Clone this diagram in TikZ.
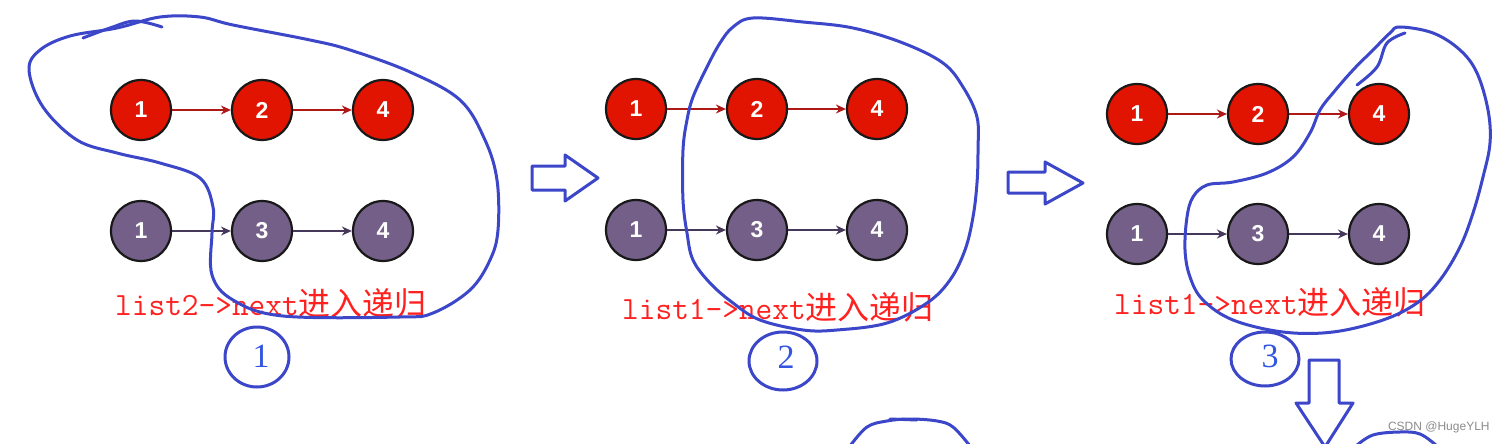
\documentclass[tikz,border=0pt]{standalone}
\usepackage{fontspec}
\setmainfont{Liberation Sans}
\newfontfamily\cjk{Noto Sans CJK SC}
\newfontfamily\seriff{Liberation Serif}
\usetikzlibrary{arrows.meta}
\definecolor{nodered}{HTML}{E01400}
\definecolor{nodepurple}{HTML}{735F87}
\definecolor{arrred}{HTML}{B01818}
\definecolor{arrpurple}{HTML}{46385A}
\definecolor{pen}{HTML}{3C46C8}
\definecolor{numblue}{HTML}{3355E0}
\definecolor{lblred}{HTML}{FF2020}
\tikzset{
  listnode/.style={circle,draw=black!90,line width=1.1pt,minimum size=30pt,inner sep=0pt,
    text=white,font=\fontsize{11.5}{12}\selectfont\bfseries},
  rednode/.style={listnode,fill=nodered},
  purnode/.style={listnode,fill=nodepurple},
  redlink/.style={draw=arrred,line width=0.8pt,-{Stealth[length=5pt,width=4.5pt]}},
  purlink/.style={draw=arrpurple,line width=0.8pt,-{Stealth[length=5pt,width=4.5pt]}},
  penline/.style={draw=pen,line width=1.5pt,line cap=round,line join=round},
  lbl/.style={text=lblred,inner sep=0pt},
  numtxt/.style={text=numblue,font=\seriff\fontsize{17}{18}\selectfont,inner sep=0pt},
}
\newcommand{\lbltext}[1]{{\ttfamily\fontsize{16.2}{18}\selectfont #1}{\cjk\fontsize{16}{18}\selectfont 进入递归}}
\begin{document}
\begin{tikzpicture}[x=0.5pt,y=-0.5pt]
\useasboundingbox (0,0) rectangle (1504,444);
\fill[white] (0,0) rectangle (1504,444);
% ---------- panel 1 ----------
\node[rednode] (a11) at (141,110) {1};
\node[rednode] (a12) at (262,110) {2};
\node[rednode] (a13) at (383,110) {4};
\node[purnode] (b11) at (141,231) {1};
\node[purnode] (b12) at (262,231) {3};
\node[purnode] (b13) at (383,231) {4};
\draw[redlink] (a11) -- (a12);
\draw[redlink] (a12) -- (a13);
\draw[purlink] (b11) -- (b12);
\draw[purlink] (b12) -- (b13);
\node[lbl] (l1) at (271,303) {\lbltext{list2->next}};
% ---------- panel 2 ----------
\node[rednode] (a21) at (636,109) {1};
\node[rednode] (a22) at (757,109) {2};
\node[rednode] (a23) at (877,109) {4};
\node[purnode] (b21) at (636,230) {1};
\node[purnode] (b22) at (757,230) {3};
\node[purnode] (b23) at (877,230) {4};
\draw[redlink] (a21) -- (a22);
\draw[redlink] (a22) -- (a23);
\draw[purlink] (b21) -- (b22);
\draw[purlink] (b22) -- (b23);
\node[lbl] (l2) at (778,307) {\lbltext{list1->next}};
% ---------- panel 3 ----------
\node[rednode] (a31) at (1137,114) {1};
\node[rednode] (a32) at (1258,114) {2};
\node[rednode] (a33) at (1379,114) {4};
\node[purnode] (b31) at (1137,234) {1};
\node[purnode] (b32) at (1258,234) {3};
\node[purnode] (b33) at (1379,234) {4};
\draw[redlink] (a31) -- (a32);
\draw[redlink] (a32) -- (a33);
\draw[purlink] (b31) -- (b32);
\draw[purlink] (b32) -- (b33);
\node[lbl] (l3) at (1270,302) {\lbltext{list1->next}};
% ---------- hand-drawn loops ----------
\draw[penline] plot[smooth cycle,tension=0.6] coordinates {
 (117,28) (160,17) (200,17) (233,25) (310,40) (350,50) (410,72) (460,100) (485,140)
 (497,180) (498,230) (490,260) (470,290) (433,313) (400,317) (283,316) (233,300)
 (212,275) (212,233) (213,207) (200,178) (160,163) (117,153) (77,140) (43,107)
 (29,70) (40,50) (70,36)};
\draw[penline] plot[smooth,tension=0.6] coordinates {(83,38) (110,28) (135,21) (162,27)};
\draw[penline] plot[smooth cycle,tension=0.6] coordinates {
 (733,27) (753,18) (803,22) (853,28) (903,43) (943,63) (963,87) (977,117) (978,150)
 (977,183) (973,217) (965,250) (950,280) (927,303) (887,323) (837,330) (803,330)
 (760,320) (733,303) (710,283) (693,260) (687,233) (683,200) (683,150) (687,120)
 (693,97) (707,67) (720,43)};
\draw[penline] plot[smooth cycle,tension=0.6] coordinates {
 (1400,27) (1433,33) (1460,50) (1477,73) (1488,110) (1490,143) (1483,177) (1473,213)
 (1460,247) (1440,280) (1417,303) (1383,320) (1333,332) (1283,332) (1233,320)
 (1203,300) (1190,277) (1185,250) (1187,217) (1193,197) (1207,185) (1233,182)
 (1267,173) (1293,157) (1310,133) (1320,110) (1333,93) (1353,70) (1373,50) (1390,33)};
\draw[penline] plot[smooth,tension=0.6] coordinates {(1405,33) (1387,43) (1377,67) (1357,85)};
% ---------- circled step numbers ----------
\draw[penline] (257,357) ellipse [x radius=32,y radius=30];
\node[numtxt] (n1) at (261,356) {1};
\draw[penline] (783,361) ellipse [x radius=34,y radius=29];
\node[numtxt] (n2) at (786,357) {2};
\draw[penline] (1265,359) ellipse [x radius=34,y radius=27];
\node[numtxt] (n3) at (1270,356) {3};
% ---------- block arrows ----------
\draw[penline] (532,166) -- (565,166) -- (565,155) -- (598,178) -- (565,201) -- (565,190) -- (532,190) -- cycle;
\draw[penline] (1008,172) -- (1045,172) -- (1045,162) -- (1083,183) -- (1045,204) -- (1045,193) -- (1008,193) -- cycle;
\draw[penline] (1309,360) -- (1339,360) -- (1339,403) -- (1353,403) -- (1325,447) -- (1296,403) -- (1309,403) -- cycle;
% ---------- partial loops at the bottom ----------
\draw[penline] plot[smooth,tension=0.6] coordinates {(850,446) (867,427) (887,421) (910,419) (937,421) (953,427) (970,446)};
\draw[penline] (890,419) -- (917,420);
\draw[penline] plot[smooth,tension=0.6] coordinates {(1356,446) (1373,435) (1400,432) (1420,434) (1437,446)};
% ---------- watermark ----------
\node[anchor=east,text=black!45,font=\fontsize{6}{7}\selectfont,inner sep=0pt] (wm) at (1490,427) {CSDN @HugeYLH};
\end{tikzpicture}
\end{document}
